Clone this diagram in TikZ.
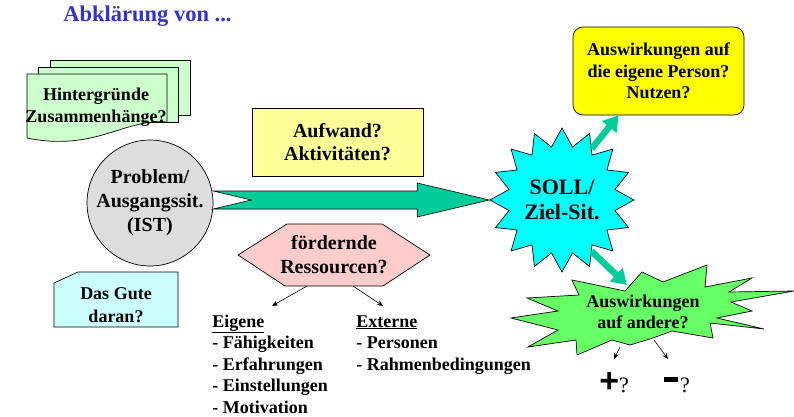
\documentclass[tikz,border=0pt]{standalone}
\usepackage{fontspec}
\setmainfont{Liberation Serif}
\newfontfamily\signfont{Liberation Sans}
\usepackage{tikz}
\usetikzlibrary{shapes.geometric,arrows.meta,calc}

\definecolor{titleblue}{RGB}{51,51,204}
\definecolor{docgreen}{RGB}{204,255,204}
\definecolor{istgray}{RGB}{221,221,221}
\definecolor{gutecyan}{RGB}{204,255,255}
\definecolor{paleyellow}{RGB}{255,255,153}
\definecolor{arrowgreen}{RGB}{0,204,153}
\definecolor{pinkfill}{RGB}{255,204,204}
\definecolor{burstgreen}{RGB}{102,255,102}
\definecolor{sollcyan}{RGB}{0,255,255}
\definecolor{boxyellow}{RGB}{255,255,0}

\begin{document}
\begin{tikzpicture}[x=1pt,y=-1pt,line width=0.7pt,
  lbl/.style={font=\fontsize{20}{24}\selectfont\bfseries,align=center,inner sep=0pt},
  slbl/.style={font=\fontsize{18}{21.5}\selectfont\bfseries,align=center,inner sep=0pt},
  item/.style={font=\fontsize{18}{21.5}\selectfont\bfseries,anchor=base west,inner sep=0pt},
  sheet/.style={draw,fill=docgreen},
  fatarrow/.style={draw=arrowgreen,line width=6.5pt,-{Triangle[length=15pt,width=18pt]}},
  thinarrow/.style={line width=0.6pt,-{Stealth[length=6pt,width=5pt]}}]
\useasboundingbox (0,0) rectangle (794,417);

\node[anchor=base west,inner sep=0pt,text=titleblue,font=\fontsize{22.5}{26}\selectfont\bfseries] (title) at (63,22) {Abklärung von ...};

% Hintergruende
\filldraw[sheet] (50,60) rectangle (190,115);
\filldraw[sheet] (38,67) rectangle (178,122);
\filldraw[sheet] (27,74) -- (167,74) -- (167,122) .. controls (125,118) and (95,152) .. (27,138) -- cycle;
\node[slbl] (hint) at (96,107) {Hintergründe\\Zusammenhänge?};

\node[circle,draw,fill=istgray,minimum size=124pt,lbl] (ist) at (150,203) {Problem/\\Ausgangssit.\\(IST)};

\filldraw[fill=gutecyan] (54,283) -- (78,272) -- (178,272) -- (178,327) -- (54,327) -- cycle;
\node[slbl,font=\fontsize{18}{23}\selectfont\bfseries] (gute) at (116,305) {Das Gute\\daran?};

\node[draw,fill=paleyellow,minimum width=171pt,minimum height=68pt,lbl,font=\fontsize{20}{23}\selectfont\bfseries] (aufw) at (337.5,142) {Aufwand?\\Aktivitäten?};

\node[star,star points=16,star point height=18pt,minimum size=144pt,draw,fill=sollcyan,inner sep=0pt,align=center,font=\fontsize{22}{25}\selectfont\bfseries] (soll) at (562,200) {SOLL/\\Ziel-Sit.};

% grosser Pfeil IST -> SOLL
\filldraw[fill=arrowgreen,line width=0.6pt] ($(ist.east |- soll.west)+(0,-9)$) -- ($(soll.west)+(-72,-9)$) -- ($(soll.west)+(-72,-17)$) -- (soll.west)
  -- ($(soll.west)+(-72,17)$) -- ($(soll.west)+(-72,9)$) -- ($(ist.east |- soll.west)+(0,9)$) -- ($(ist.east |- soll.west)+(38,0)$) -- cycle;

% Ressourcen
\filldraw[fill=pinkfill] (238,255) -- (287,224) -- (382,224) -- (430,255) -- (383,286) -- (285,286) -- cycle;
\node[lbl] (ress) at (334,255) {fördernde\\Ressourcen?};
\coordinate (eig) at (272,306);
\coordinate (ext) at (383,306);
\draw[thinarrow] ($(ress)+(-27,31)$) -- (eig);
\draw[thinarrow] ($(ress)+(19,31)$) -- (ext);

\node[item] (eig-0) at (212,327) {\underline{Eigene}};
\foreach \t [count=\i] in {Fähigkeiten,Erfahrungen,Einstellungen,Motivation}
  \node[item] (eig-\i) at (212,{327+21.5*\i}) {- \t};
\node[item] (ext-0) at (356,327) {\underline{Externe}};
\foreach \t [count=\i] in {Personen,Rahmenbedingungen}
  \node[item] (ext-\i) at (356,{327+21.5*\i}) {- \t};

\node[draw,fill=boxyellow,rounded corners=10pt,minimum width=171pt,minimum height=88pt,slbl] (eigen) at (658.5,71) {Auswirkungen auf\\die eigene Person?\\Nutzen?};

% Auswirkungen auf andere
\filldraw[fill=burstgreen] (511,318) -- (558,311) -- (527,298) -- (579,295) -- (572,280) -- (625,291) -- (642,272) -- (663,282)
  -- (707,265) -- (705,287) -- (752,278) -- (729,292) -- (794,291) -- (731,302) -- (752,311) -- (717,318) -- (764,329)
  -- (710,323) -- (713,338) -- (672,331) -- (653,338) -- (630,345) -- (612,340) -- (577,355) -- (576,340) -- (528,347)
  -- (558,330) -- cycle;
\node[slbl,font=\fontsize{18}{20.5}\selectfont\bfseries] (andere) at (643,312) {Auswirkungen\\auf andere?};

\coordinate (eigin) at ($(eigen.south west)+(46,0)$);
\coordinate (burstin) at (627,285);
\draw[fatarrow] (soll.60) -- (eigin);
\draw[fatarrow] (soll.-60) -- (burstin);

\coordinate (pa) at (620,347);
\coordinate (pb) at (614,359);
\coordinate (ma) at (654,340);
\coordinate (mb) at (668,359);
\draw[thinarrow] (pa) -- (pb);
\draw[thinarrow] (ma) -- (mb);
\node[anchor=base west,inner sep=0pt] (plus) at (599,392) {{\signfont\bfseries\fontsize{34}{34}\selectfont+}{\fontsize{22}{22}\selectfont?}};
\node[anchor=base west,inner sep=0pt] (minus) at (664,392) {\rule[10pt]{14pt}{5pt}\,{\fontsize{22}{22}\selectfont?}};
\end{tikzpicture}
\end{document}
